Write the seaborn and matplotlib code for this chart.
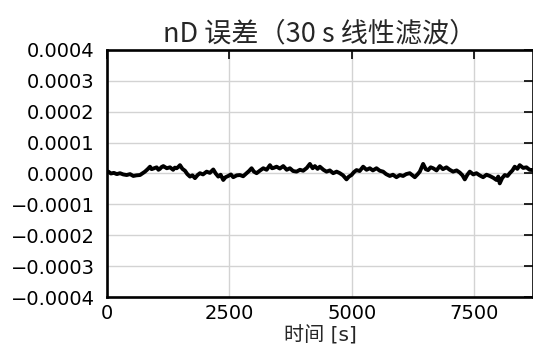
import matplotlib
matplotlib.use("Agg")
import matplotlib.pyplot as plt
import seaborn as sns
import pandas as pd
from matplotlib.ticker import FuncFormatter, MultipleLocator

# time [s] and nD error (units of 1e-6)
time_s = [0, 27, 80, 140, 200, 265, 330, 401, 470, 537, 600, 673, 720, 775, 830, 878, 910, 945,
          1014, 1050, 1080, 1115, 1150, 1220, 1286, 1350, 1385, 1422, 1460, 1490, 1540, 1592, 1640,
          1694, 1745, 1796, 1850, 1898, 1960, 2034, 2100, 2170, 2220, 2272, 2320,
          2374, 2420, 2476, 2530, 2578, 2650, 2714, 2780, 2850, 2900, 2952, 3000,
          3055, 3120, 3191, 3260, 3327, 3370, 3400, 3463, 3530, 3599, 3670, 3735, 3800,
          3871, 3940, 4007, 4080, 4143, 4200, 4245, 4300, 4347, 4420, 4483, 4550,
          4619, 4690, 4755, 4820, 4891, 4940, 4993, 5040, 5095, 5160, 5231, 5300,
          5367, 5430, 5503, 5570, 5639, 5700, 5775, 5840, 5911, 5980, 6047, 6110,
          6183, 6240, 6286, 6340, 6388, 6420, 6456, 6510, 6558, 6610, 6660, 6730,
          6796, 6860, 6932, 7000, 7068, 7140, 7204, 7260, 7307, 7360, 7409, 7480,
          7545, 7610, 7681, 7750, 7817, 7890, 7953, 7990, 8021, 8070, 8123, 8180,
          8225, 8280, 8327, 8380, 8429, 8500, 8566, 8630, 8701]
error_e6 = [4, 6, 0, 2, -2, 1, -3, -5, -2, -8, -6, -5, 0, 6, 14, 22, 14, 16,
            20, 12, 15, 21, 24, 17, 20, 12, 19, 17, 22, 27, 15, 9, -2,
            -10, -6, -15, -5, 1, -3, 6, 2, 13, 0, -10, -4,
            -21, -12, -8, -3, -12, -6, -5, -9, 1, 8, 17, 6,
            1, 9, 17, 12, 27, 17, 18, 22, 16, 24, 12, 17, 8,
            6, 12, 9, 18, 31, 17, 24, 15, 22, 12, 6, 10,
            1, 6, 1, -6, -19, -10, -5, 4, 11, 8, 22, 12,
            17, 10, 17, 9, 6, -2, -8, -4, -12, -5, -8, -2,
            1, -6, -12, -3, 6, 18, 31, 14, 11, 20, 17, 10,
            24, 14, 20, 12, 6, 10, 3, -6, -19, -4, 6, -3,
            1, -6, -12, -4, -8, -14, -21, -10, -32, -15, -5, -8,
            1, 10, 22, 15, 27, 18, 20, 12, 11]

title = "nD 误差（30 s 线性滤波）"
xlabel = "时间 [s]"
x_ticks = [0, 2500, 5000, 7500]


def main():
    sns.set_style("white")
    plt.rcParams["font.family"] = ["DejaVu Sans", "Noto Sans CJK SC"]
    plt.rcParams["axes.unicode_minus"] = True

    df = pd.DataFrame({"t": time_s, "err": [v * 1e-6 for v in error_e6]})

    fig = plt.figure(figsize=(5.33, 3.54), dpi=100)
    ax = fig.add_axes([0.2008, 0.161, 0.7992, 0.6978])

    sns.lineplot(data=df, x="t", y="err", color="black", linewidth=2.8, ax=ax)

    ax.set_xlim(0, 8700)
    ax.set_ylim(-0.0004, 0.0004)
    ax.set_xticks(x_ticks)
    ax.yaxis.set_major_locator(MultipleLocator(0.0001))

    def fmt(y, pos):
        s = f"{y:.4f}"
        if s == "-0.0000":
            s = "0.0000"
        return s.replace("-", "\u2212")

    ax.yaxis.set_major_formatter(FuncFormatter(fmt))

    ax.grid(True, color="#d3d3d3", linewidth=1.0)
    ax.set_axisbelow(True)
    for sp in ax.spines.values():
        sp.set_color("black")
        sp.set_linewidth(1.9)

    ax.tick_params(axis="both", which="major", direction="in", length=6.5, width=1.2,
                   top=True, right=True, labelsize=14, colors="black")
    ax.tick_params(axis="y", pad=9)
    ax.tick_params(axis="x", pad=5)

    ax.set_xlabel(xlabel, fontsize=14.5, family=["DejaVu Sans", "Noto Sans CJK SC"], labelpad=2)
    ax.set_ylabel("")
    ax.set_title(title, fontsize=19.5, family=["Noto Sans CJK SC", "DejaVu Sans"], pad=6)

    fig.savefig("out.png", dpi=100)
    plt.close(fig)


if __name__ == "__main__":
    main()
